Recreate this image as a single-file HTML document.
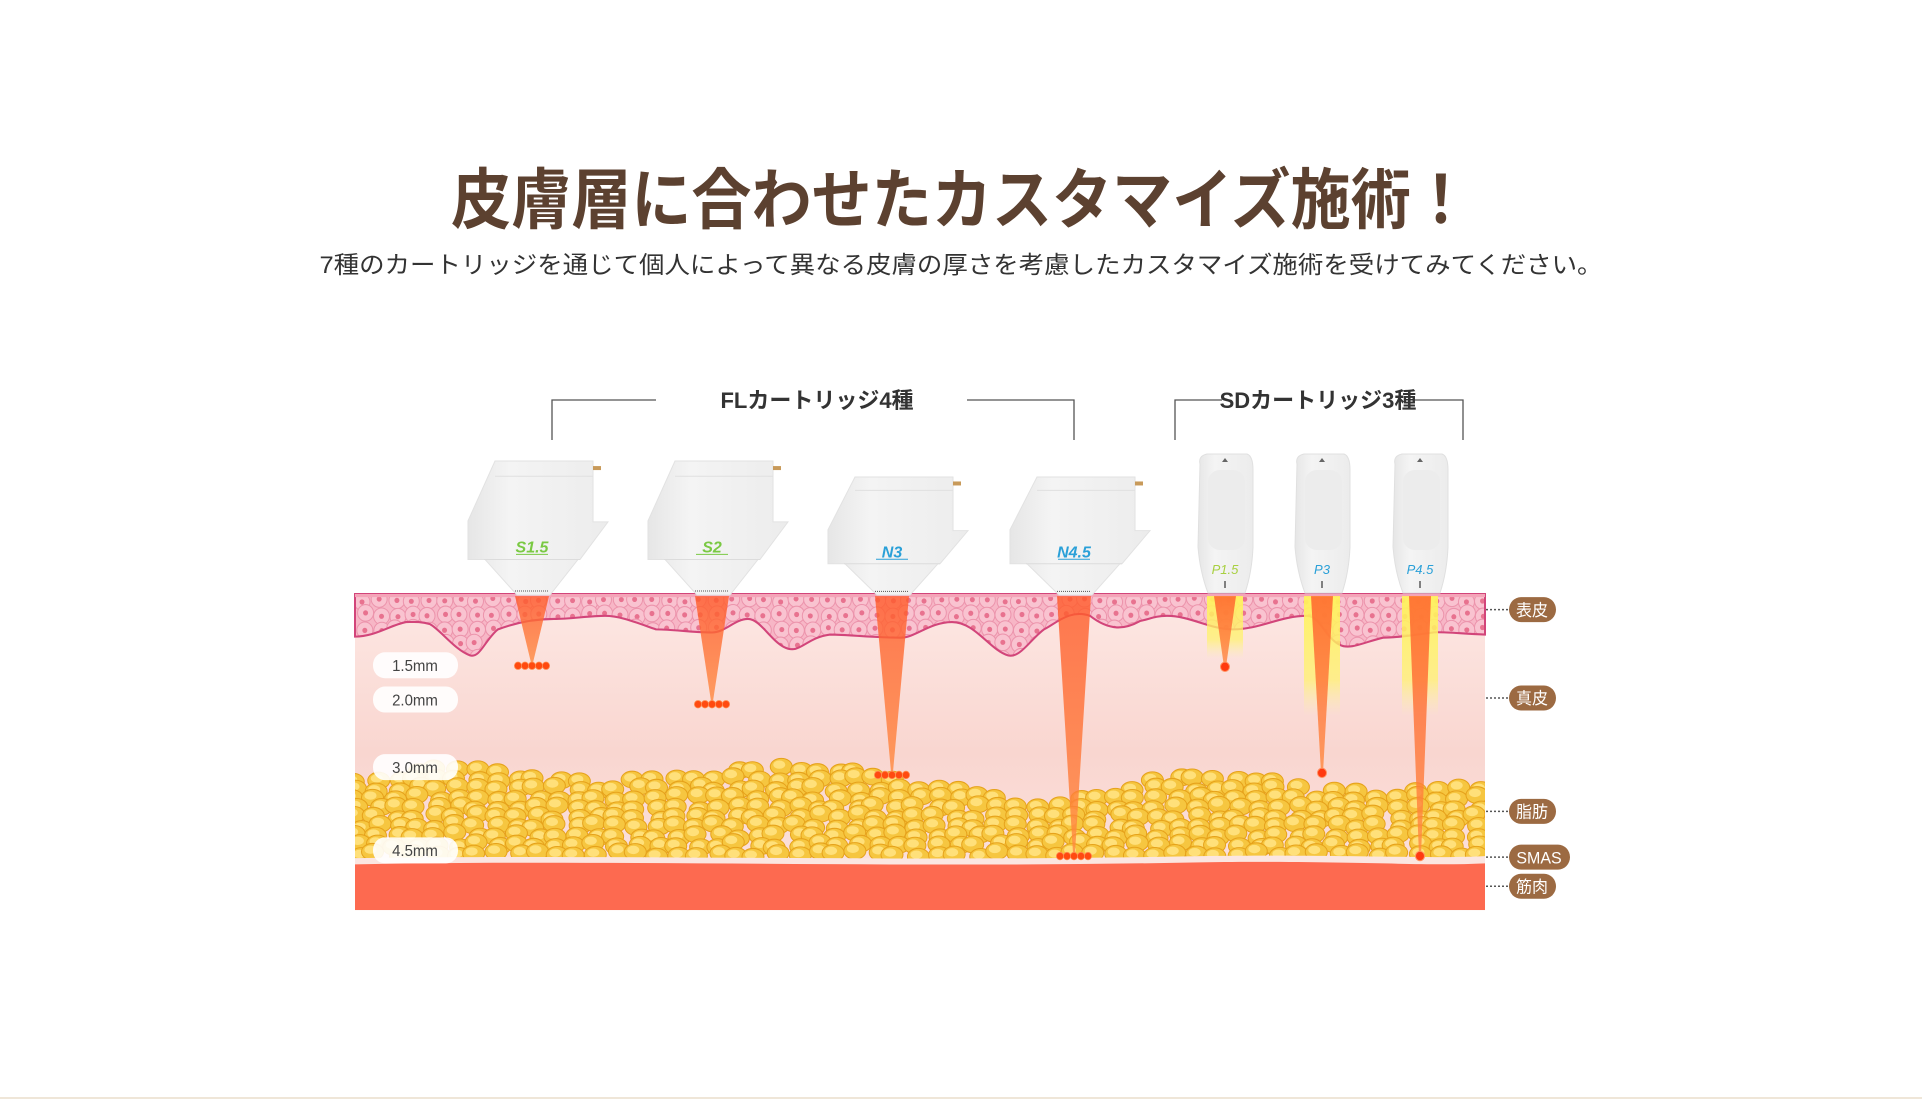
<!DOCTYPE html>
<html><head><meta charset="utf-8">
<style>
html,body{margin:0;padding:0;background:#fff;width:1922px;height:1100px;overflow:hidden}
svg{display:block}
text{font-family:"Liberation Sans","Noto Sans CJK JP",sans-serif}
</style></head>
<body>
<svg id="s" width="1922" height="1100" viewBox="0 0 1922 1100" xmlns="http://www.w3.org/2000/svg">
<defs>
<linearGradient id="derm" x1="0" y1="0" x2="0" y2="1">
<stop offset="0" stop-color="#fde8e4"/><stop offset="0.5" stop-color="#f9d6d0"/><stop offset="1" stop-color="#fce4e0"/>
</linearGradient>
<linearGradient id="beam" x1="0" y1="0" x2="0" y2="1">
<stop offset="0" stop-color="#ff5a2a" stop-opacity="0.8"/><stop offset="1" stop-color="#ff8a40" stop-opacity="0.8"/>
</linearGradient>
<linearGradient id="glow" x1="0" y1="0" x2="0" y2="1">
<stop offset="0" stop-color="#fff35a" stop-opacity="0.95"/><stop offset="0.7" stop-color="#fff36a" stop-opacity="0.7"/><stop offset="1" stop-color="#fff6a0" stop-opacity="0"/>
</linearGradient>
<linearGradient id="cart" x1="0" y1="0" x2="1" y2="0">
<stop offset="0" stop-color="#e6e6e6"/><stop offset="0.3" stop-color="#f4f4f4"/><stop offset="1" stop-color="#ececec"/>
</linearGradient>
<clipPath id="skin"><rect x="355" y="586" width="1130" height="304"/></clipPath>
<clipPath id="epi"><path id="epiP" d="M355 586 H1485 V625 C1460 624,1440 622,1433 623 C1410 626,1395 628,1383 628 C1365 632,1350 640,1340 635 C1325 628,1320 607,1307 607 C1280 607,1260 620,1233 620 C1210 620,1190 607,1167 607 C1155 607,1150 610,1140 612 C1125 620,1110 622,1090 607 C1070 600,1055 615,1044 620 C1030 630,1020 648,1008 645 C990 640,975 613,952 613 C930 613,915 628,901 628 C870 628,850 625,830 625 C805 628,800 645,784 637 C770 630,760 610,748 610 C735 610,725 623,712 623 C690 623,675 620,656 620 C635 613,620 607,605 607 C590 607,570 610,554 610 C530 610,512 615,498 620 C485 630,480 648,470 645 C455 640,440 620,430 615 C420 612,412 613,406 613 C390 616,375 627,355 627 Z"/></clipPath>
</defs>

<text x="961" y="223" text-anchor="middle" font-size="66" font-weight="bold" fill="#5c4130" textLength="1020" lengthAdjust="spacingAndGlyphs">皮膚層に合わせたカスタマイズ施術！</text>
<text x="961" y="273" text-anchor="middle" font-size="24" fill="#333" textLength="1283" lengthAdjust="spacingAndGlyphs">7種のカートリッジを通じて個人によって異なる皮膚の厚さを考慮したカスタマイズ施術を受けてみてください。</text>

<g stroke="#555" stroke-width="1.3" fill="none">
<path d="M552 440 V400 H656"/><path d="M967 400 H1074 V440"/>
<path d="M1175 440 V400 H1222"/><path d="M1413 400 H1463 V440"/>
</g>
<text x="817" y="408" text-anchor="middle" font-size="22" font-weight="bold" fill="#333">FLカートリッジ4種</text>
<text x="1318" y="408" text-anchor="middle" font-size="22" font-weight="bold" fill="#333">SDカートリッジ3種</text>

<g transform="translate(0,594) scale(1,1.04) translate(0,-586)">
<g clip-path="url(#skin)">
<rect x="355" y="586" width="1130" height="304" fill="url(#derm)"/>
<g id="fat"></g>
<path d="M355 840 C600 836,900 844,1200 838 C1350 836,1420 841,1485 838 V890 H355Z" fill="#fbe6e1"/>
<path d="M355 846 C600 841,900 850,1200 844 C1350 842,1420 848,1485 845 V890 H355Z" fill="#fd6a50"/>
</g>
<g clip-path="url(#epi)">
<rect x="355" y="586" width="1130" height="70" fill="#f7b6c6"/>
<g id="cells"></g>
</g>
<use href="#epiP" fill="none" stroke="#d2457a" stroke-width="2"/>
<rect x="355" y="586" width="1130" height="3" fill="#f4a4b8"/>

<g id="beams"></g>

<g font-size="15" fill="#444" text-anchor="middle">
<rect x="373" y="642" width="85" height="25" rx="12" fill="#fff" opacity="0.9"/><text x="415" y="660">1.5mm</text>
<rect x="373" y="675" width="85" height="25" rx="12" fill="#fff" opacity="0.9"/><text x="415" y="693">2.0mm</text>
<rect x="373" y="740" width="85" height="25" rx="12" fill="#fff" opacity="0.9"/><text x="415" y="758">3.0mm</text>
<rect x="373" y="820" width="85" height="25" rx="12" fill="#fff" opacity="0.9"/><text x="415" y="838">4.5mm</text>
</g>

<g stroke="#555" stroke-width="1.5" stroke-dasharray="2 2">
<line x1="1486" y1="601" x2="1508" y2="601"/><line x1="1486" y1="686" x2="1508" y2="686"/>
<line x1="1486" y1="795" x2="1508" y2="795"/><line x1="1486" y1="839" x2="1508" y2="839"/><line x1="1486" y1="867" x2="1508" y2="867"/>
</g>
<g fill="#9c6a42">
<rect x="1509" y="589" width="47" height="24" rx="12"/><rect x="1509" y="674" width="47" height="24" rx="12"/>
<rect x="1509" y="783" width="47" height="24" rx="12"/><rect x="1509" y="827" width="61" height="24" rx="12"/>
<rect x="1509" y="855" width="47" height="24" rx="12"/>
</g>
<g fill="#fff" font-size="16" text-anchor="middle">
<text x="1532" y="607">表皮</text><text x="1532" y="692">真皮</text><text x="1532" y="801">脂肪</text>
<text x="1539" y="845">SMAS</text><text x="1532" y="873">筋肉</text>
</g>
</g>

<g id="carts"></g>
<line x1="0" y1="1098" x2="1922" y2="1098" stroke="#efe6d8" stroke-width="2"/>
</svg>
<script>
var NS="http://www.w3.org/2000/svg";
function el(t,a,p){var e=document.createElementNS(NS,t);for(var k in a)e.setAttribute(k,a[k]);(p||document.getElementById('s')).appendChild(e);return e;}
var seed=7;function r(){seed=(seed*16807)%2147483647;return (seed-1)/2147483646;}
var cg=document.getElementById('cells');
for(var y=590;y<655;y+=14){for(var x=355+(y%28?7:0);x<1490;x+=16){
 var cx=x+r()*4,cy=y+r()*4;
 el('circle',{cx:cx,cy:cy,r:8,fill:'#f9c3d0',stroke:'#ec94ac','stroke-width':1},cg);
 el('circle',{cx:cx,cy:cy,r:2.5,fill:'#e8728f'},cg);}}
var fg=document.getElementById('fat');
function ftop(x){return 765-10*Math.sin((x-355)/60)-6*Math.sin((x-355)/170)+(x>620&&x<800?-8:0)+(x>1000&&x<1130?6:0);}
for(var y=752;y<842;y+=9){for(var x=352;x<1490;x+=20){
 var cx=x+r()*10,cy=y+r()*6;if(cy<ftop(cx))continue;
 el('ellipse',{cx:cx,cy:cy,rx:11,ry:8,fill:'#f6c640',stroke:'#e6a21b','stroke-width':1},fg);
 el('ellipse',{cx:cx-2,cy:cy-2,rx:6,ry:4,fill:'#ffe07a'},fg);}}
var bg=document.getElementById('beams');
function flbeam(cx,y){el('path',{d:'M'+(cx-17)+' 588 L'+(cx+17)+' 588 L'+(cx+1)+' '+(y-3)+' L'+(cx-1)+' '+(y-3)+'Z',fill:'url(#beam)'},bg);
 for(var i=-2;i<=2;i++)el('circle',{cx:cx+i*7,cy:y,r:3.6,fill:'#ff4a10',stroke:'#ff8c50','stroke-width':0.8},bg);}
flbeam(532,655);flbeam(712,692);flbeam(892,760);flbeam(1074,838);
function sdbeam(cx,y,gl){el('rect',{x:cx-18,y:588,width:36,height:gl,fill:'url(#glow)'},bg);
 el('path',{d:'M'+(cx-11)+' 588 L'+(cx+11)+' 588 L'+(cx+1)+' '+y+' L'+(cx-1)+' '+y+'Z',fill:'url(#beam)'},bg);
 el('circle',{cx:cx,cy:y,r:4.5,fill:'#ff3a10',stroke:'#ff9060','stroke-width':1},bg);}
sdbeam(1225,656,60);sdbeam(1322,758,115);sdbeam(1420,838,115);
var ca=document.getElementById('carts');
function fl(cx,top,col,lab){var h=595-top,s=h/132;function Y(v){return top+v*s;}
 var g=el('g',{},ca);
 el('path',{d:'M'+(cx-37)+' '+Y(0)+' H'+(cx+61)+' V'+Y(60)+' H'+(cx+76)+' L'+(cx+48)+' '+Y(97)+' L'+(cx+46)+' '+Y(97)+' L'+(cx+18)+' '+Y(132)+' H'+(cx-15)+' L'+(cx-47)+' '+Y(97)+' H'+(cx-64)+' V'+Y(59)+' Z',fill:'url(#cart)',stroke:'#e2e2e2','stroke-width':1},g);
 el('line',{x1:cx-48,y1:Y(97),x2:cx+48,y2:Y(97),stroke:'#dcdcdc'},g);
 el('line',{x1:cx-37,y1:Y(15),x2:cx+61,y2:Y(15),stroke:'#e0e0e0'},g);
 el('rect',{x:cx+61,y:Y(5),width:8,height:4,fill:'#c89a5a'},g);
 var t=el('text',{x:cx,y:Y(90),'text-anchor':'middle','font-size':16,'font-style':'italic','font-weight':'bold',fill:col},g);t.textContent=lab;
 el('line',{x1:cx-16,y1:Y(92),x2:cx+16,y2:Y(92),stroke:col,'stroke-width':1},g);
 el('line',{x1:cx-17,y1:Y(128),x2:cx+17,y2:Y(128),stroke:'#555','stroke-width':1,'stroke-dasharray':'1 1'},g);}
fl(532,461,'#7ac943','S1.5');fl(712,461,'#7ac943','S2');fl(892,477,'#2aa0d8','N3');fl(1074,477,'#2aa0d8','N4.5');
function sd(cx,col,lab){var g=el('g',{},ca);
 el('path',{d:'M'+(cx-25)+' 464 Q'+(cx-27)+' 456 '+(cx-18)+' 454 H'+(cx+22)+' Q'+(cx+28)+' 456 '+(cx+28)+' 470 V547 Q'+(cx+27)+' 572 '+(cx+20)+' 593 H'+(cx-17)+' Q'+(cx-25)+' 572 '+(cx-27)+' 547 Z',fill:'url(#cart)',stroke:'#e0e0e0'},g);
 el('rect',{x:cx-17,y:470,width:37,height:80,rx:12,fill:'#ececec'},g);
 el('path',{d:'M'+cx+' 458 l3 4 h-6z',fill:'#666'},g);
 var t=el('text',{x:cx,y:574,'text-anchor':'middle','font-size':13,'font-style':'italic',fill:col},g);t.textContent=lab;
 el('line',{x1:cx,y1:581,x2:cx,y2:588,stroke:'#333','stroke-width':1.2},g);}
sd(1225,'#a8d040','P1.5');sd(1322,'#2aa0d8','P3');sd(1420,'#2aa0d8','P4.5');
</script>
</body></html>
